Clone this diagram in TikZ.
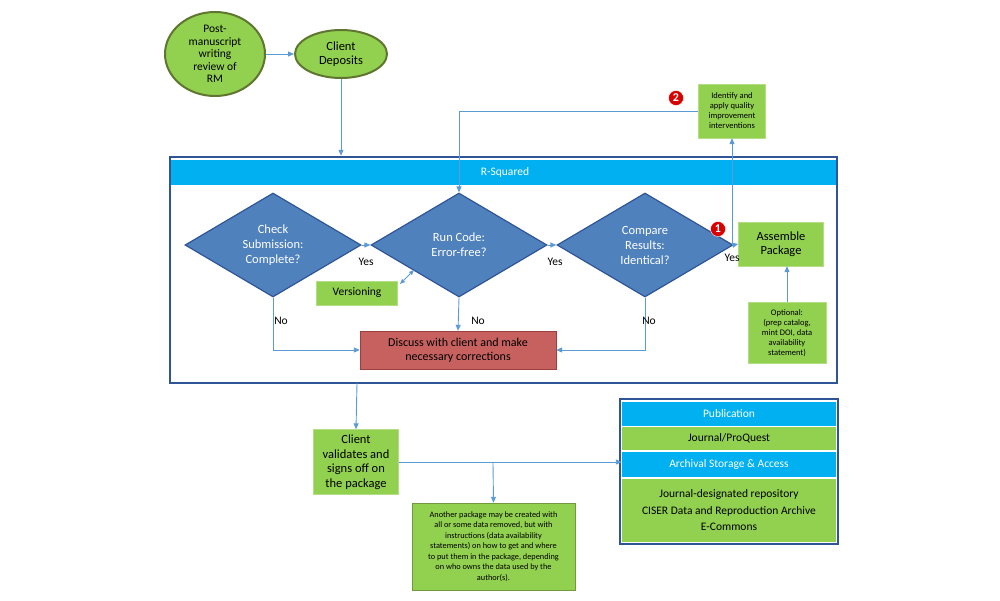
\documentclass[tikz,border=0pt]{standalone}
\usepackage{fontspec}
\setmainfont{Carlito}
\usetikzlibrary{shapes.geometric,arrows.meta}
\definecolor{gr}{HTML}{92D050}
\definecolor{grd}{HTML}{5F7530}
\definecolor{bl}{HTML}{4F81BD}
\definecolor{bld}{HTML}{2F5597}
\definecolor{cy}{HTML}{00B0F0}
\definecolor{ln}{HTML}{5B9BD5}
\definecolor{rd}{HTML}{C0504D}
\begin{document}
\begin{tikzpicture}[x=1pt,y=-1pt,
  ell/.style={ellipse,draw=grd,line width=2pt,fill=gr,inner sep=0pt,align=center,font=\fontsize{11.5}{12.5}\selectfont},
  dia/.style={diamond,draw=bld,line width=1.2pt,fill=bl,text=white,inner sep=0pt,minimum width=176pt,minimum height=104pt,align=center,font=\fontsize{12.5}{15}\selectfont},
  gbox/.style={draw=gr!70!white,fill=gr,align=center,inner sep=1pt},
  conn/.style={draw=ln,line width=0.9pt,-{Triangle[length=6pt,width=5pt]}},
  plain/.style={draw=ln,line width=0.9pt},
  lab/.style={font=\fontsize{11.5}{12.5}\selectfont},
  badge/.style={circle,fill=red!85!black,draw=white,text=white,inner sep=0pt,minimum size=15pt,font=\bfseries\fontsize{12}{12}\selectfont}]
\useasboundingbox (0,0) rectangle (1000,600);
% top ellipses
\node[ell,minimum width=100pt,minimum height=84pt] (pm) at (215,54) {Post-\\manuscript\\writing\\review of\\RM};
\node[ell,minimum width=92pt,minimum height=48pt,font=\fontsize{12.5}{14.5}\selectfont] (cd) at (341,54) {Client\\Deposits};
\draw[conn] (pm) -- (cd);
% frame
\node[draw=bld,line width=2.5pt,minimum width=667pt,minimum height=226pt,inner sep=0pt] (frame) at (503.5,270) {};
\fill[cy] (171,160) rectangle (836,185);
\node[text=white,lab] (rs) at (505,172.5) {R-Squared};
\draw[conn] (cd.south) -- (cd.south |- frame.north);
% diamonds
\node[dia] (d1) at (273,245) {Check\\Submission:\\Complete?};
\node[dia] (d2) at (459,245) {Run Code:\\Error-free?};
\node[dia] (d3) at (645,245) {Compare\\Results:\\Identical?};
\node[gbox,minimum width=85pt,minimum height=44pt,font=\fontsize{12.5}{14.5}\selectfont] (ap) at (781,244) {Assemble\\Package};
\node[gbox,minimum width=78pt,minimum height=61pt,font=\fontsize{8.5}{10}\selectfont] (op) at (787,333) {Optional:\\(prep catalog,\\mint DOI, data\\availability\\statement)};
\node[gbox,minimum width=67pt,minimum height=54pt,font=\fontsize{8.5}{10}\selectfont] (iq) at (732,111) {Identify and\\apply quality\\improvement\\interventions};
\node[gbox,minimum width=81pt,minimum height=24pt,font=\fontsize{11.5}{12}\selectfont] (vs) at (357,293) {Versioning};
\node[draw=rd!80!black,fill=rd!90!white,minimum width=196pt,minimum height=38pt,align=center,inner sep=1pt,font=\fontsize{12}{14}\selectfont] (dc) at (458,350) {Discuss with client and make\\necessary corrections};
\draw[conn] (d1.east) -- (d2.west);
\draw[conn] (d2.east) -- (d3.west);
\draw[conn] (d3.east) -- (ap.west);
\node[lab] (y1) at (366,262) {Yes};
\node[lab] (y2) at (555,262) {Yes};
\node[lab] (y3) at (732,258) {Yes};
\coordinate (up) at (732,245);
\draw[conn] (up) -- (iq.south);
\coordinate (t2) at (459,111);
\draw[plain] (iq.west) -- (t2);
\draw[conn] (t2) -- (d2.north);
\node[badge] (b2) at (676,98) {2};
\node[badge] (b1) at (718,229) {1};
\draw[conn] (op.north) -- (op.north |- ap.south);
\coordinate (va) at (400,284);
\coordinate (vb) at (414,270);
\draw[draw=ln,line width=0.9pt,{Triangle[length=5pt,width=4pt]}-{Triangle[length=5pt,width=4pt]}] (va) -- (vb);
\draw[conn] (d1.south) |- (dc.west);
\draw[conn] (d2.south) -- (dc.north);
\draw[conn] (d3.south) |- (dc.east);
\node[lab] (n1) at (281,321) {No};
\node[lab] (n2) at (478,321) {No};
\node[lab] (n3) at (649,321) {No};
% bottom
\node[gbox,minimum width=85pt,minimum height=65pt,font=\fontsize{12.5}{14.5}\selectfont] (cv) at (356,462) {Client\\validates and\\signs off on\\the package};
\draw[conn] (357,383) -- (cv.north);
\node[gbox,draw=grd!60!gr,minimum width=163pt,minimum height=87pt,font=\fontsize{8.3}{10.5}\selectfont] (an) at (493.5,546.5) {Another package may be created with\\all or some data removed, but with\\instructions (data availability\\statements) on how to get and where\\to put them in the package, depending\\on who owns the data used by the\\author(s).};
% right stack
\node[draw=bld,line width=1.5pt,minimum width=218pt,minimum height=145pt,inner sep=0pt] (st) at (729,471.5) {};
\node[fill=cy,minimum width=214pt,minimum height=24pt,text=white,lab] (pub) at (729,414) {Publication};
\node[fill=gr,minimum width=214pt,minimum height=23pt,lab] (jp) at (729,438.5) {Journal/ProQuest};
\node[fill=cy,minimum width=214pt,minimum height=25pt,text=white,lab] (as) at (729,464.5) {Archival Storage \&\ Access};
\node[fill=gr,minimum width=214pt,minimum height=63pt,lab,align=center] (rep) at (729,510.5) {Journal-designated repository\\[4pt]CISER Data and Reproduction Archive\\[4pt]E-Commons};
\draw[conn] (cv.east) -- (as.west |- cv.east);
\coordinate (br) at (493,463);
\draw[conn] (br) -- (an.north);
\end{tikzpicture}
\end{document}
